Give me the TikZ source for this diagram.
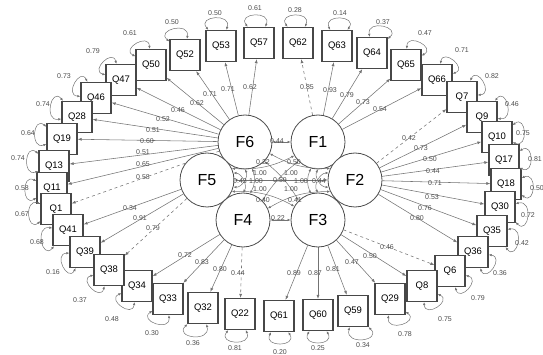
\documentclass[tikz,border=0pt]{standalone}
\usepackage{fontspec}
\setmainfont{Liberation Sans}
\usetikzlibrary{arrows.meta}
\pgfdeclarelayer{bg}
\pgfsetlayers{bg,main}
\newcommand\evar[5]{%
  \pgfmathtruncatemacro\aA{#2+28}%
  \pgfmathtruncatemacro\aB{#2-28}%
  \pgfmathtruncatemacro\oA{#2+30}%
  \pgfmathtruncatemacro\oB{#2-30}%
  \draw[cov] (#1.\aA) to[out=\oA,in=\oB,looseness=2.6] (#1.\aB);
  \node[num] (e#1) at (#3,-#4) {#5};}
\begin{document}
\begin{tikzpicture}[x=1pt,y=1pt,
  box/.style={draw=black!72,line width=1.3pt,fill=white,minimum width=30pt,minimum height=31pt,inner sep=0pt,font=\fontsize{9.5}{9.5}\selectfont},
  fac/.style={circle,draw=black!70,line width=0.8pt,fill=white,minimum size=54pt,inner sep=0pt,font=\fontsize{16}{16}\selectfont},
  ld/.style={draw=black!55,line width=0.55pt,-{Latex[length=4pt,width=3pt]}},
  ldd/.style={ld,dashed},
  cov/.style={draw=black!55,line width=0.5pt,{Latex[length=3pt,width=2.5pt]}-{Latex[length=3pt,width=2.5pt]}},
  num/.style={font=\fontsize{7}{7}\selectfont,text=black!70,inner sep=0pt},
]
\useasboundingbox (0,0) rectangle (543,-355);
% factors
\node[fac] (F6) at (245,-142) {F6};
\node[fac] (F1) at (318,-142) {F1};
\node[fac] (F5) at (207,-180) {F5};
\node[fac] (F2) at (355,-180) {F2};
\node[fac] (F4) at (243,-220) {F4};
\node[fac] (F3) at (318,-220) {F3};
% boxes
\node[box] (Q52) at (185,-55) {Q52};
\node[box] (Q53) at (221,-46) {Q53};
\node[box] (Q57) at (259,-43) {Q57};
\node[box] (Q62) at (298,-43) {Q62};
\node[box] (Q63) at (337,-46) {Q63};
\node[box] (Q64) at (372,-53) {Q64};
\node[box] (Q65) at (406,-65) {Q65};
\node[box] (Q66) at (437,-80) {Q66};
\node[box] (Q7) at (462,-97) {Q7};
\node[box] (Q9) at (482,-117) {Q9};
\node[box] (Q10) at (497,-137) {Q10};
\node[box] (Q17) at (504,-160) {Q17};
\node[box] (Q18) at (506,-184) {Q18};
\node[box] (Q30) at (500,-207) {Q30};
\node[box] (Q35) at (492,-231) {Q35};
\node[box] (Q36) at (473,-252) {Q36};
\node[box] (Q6) at (450,-271) {Q6};
\node[box] (Q8) at (422,-286) {Q8};
\node[box] (Q29) at (390,-299) {Q29};
\node[box] (Q59) at (353,-311) {Q59};
\node[box] (Q60) at (318,-315) {Q60};
\node[box] (Q61) at (279,-316) {Q61};
\node[box] (Q22) at (240,-314) {Q22};
\node[box] (Q32) at (203,-308) {Q32};
\node[box] (Q33) at (168,-299) {Q33};
\node[box] (Q34) at (137,-286) {Q34};
\node[box] (Q50) at (151,-65) {Q50};
\node[box] (Q47) at (121,-80) {Q47};
\node[box] (Q46) at (96,-98) {Q46};
\node[box] (Q28) at (77,-117) {Q28};
\node[box] (Q19) at (62,-139) {Q19};
\node[box] (Q13) at (54,-166) {Q13};
\node[box] (Q11) at (52,-188) {Q11};
\node[box] (Q1) at (56,-209) {Q1};
\node[box] (Q41) at (68,-230) {Q41};
\node[box] (Q39) at (85,-252) {Q39};
\node[box] (Q38) at (109,-270) {Q38};
% loadings
\begin{pgfonlayer}{bg}
\foreach \q in {Q57,Q53,Q52,Q50,Q47,Q46,Q28,Q19,Q13,Q11} \draw[ld] (F6) -- (\q);
\draw[ldd] (F6) -- (Q1);
\foreach \q in {Q41,Q39} \draw[ld] (F5) -- (\q);
\draw[ldd] (F5) -- (Q38);
\foreach \q in {Q34,Q33,Q32} \draw[ld] (F4) -- (\q);
\draw[ldd] (F4) -- (Q22);
\foreach \q in {Q61,Q60,Q59,Q29,Q8} \draw[ld] (F3) -- (\q);
\draw[ldd] (F3) -- (Q6);
\foreach \q in {Q36,Q35,Q30,Q18,Q17,Q10,Q9} \draw[ld] (F2) -- (\q);
\draw[ldd] (F2) -- (Q7);
\foreach \q in {Q63,Q64,Q65,Q66} \draw[ld] (F1) -- (\q);
\draw[ldd] (F1) -- (Q62);
\end{pgfonlayer}
% loading labels
\node[num] (l57) at (250,-87) {0.62};
\node[num] (l53) at (228,-89) {0.71};
\node[num] (l52) at (210,-94) {0.71};
\node[num] (l50) at (197,-103) {0.62};
\node[num] (l47) at (178,-110) {0.46};
\node[num] (l46) at (163,-119) {0.52};
\node[num] (l28) at (153,-130) {0.51};
\node[num] (l19) at (147,-141) {0.60};
\node[num] (l13) at (143,-152) {0.51};
\node[num] (l11) at (143,-164) {0.65};
\node[num] (l1) at (143,-177) {0.58};
\node[num] (l41) at (130,-208) {0.34};
\node[num] (l39) at (140,-218) {0.91};
\node[num] (l38) at (153,-228) {0.79};
\node[num] (l34) at (185,-255) {0.72};
\node[num] (l33) at (202,-262) {0.83};
\node[num] (l32) at (220,-269) {0.80};
\node[num] (l22) at (238,-273) {0.44};
\node[num] (l61) at (294,-273) {0.89};
\node[num] (l60) at (315,-273) {0.87};
\node[num] (l59) at (333,-269) {0.81};
\node[num] (l29) at (352,-262) {0.47};
\node[num] (l8) at (370,-256) {0.50};
\node[num] (l6) at (387,-247) {0.46};
\node[num] (l36) at (417,-218) {0.80};
\node[num] (l35) at (425,-208) {0.76};
\node[num] (l30) at (432,-197) {0.53};
\node[num] (l18) at (435,-183) {0.71};
\node[num] (l17) at (433,-171) {0.44};
\node[num] (l10) at (430,-159) {0.50};
\node[num] (l9) at (421,-148) {0.73};
\node[num] (l7) at (409,-138) {0.42};
\node[num] (l62) at (307,-87) {0.85};
\node[num] (l63) at (330,-90) {0.93};
\node[num] (l64) at (347,-95) {0.79};
\node[num] (l65) at (363,-102) {0.73};
\node[num] (l66) at (380,-109) {0.54};
% error variances
\evar{Q52}{111}{172}{22}{0.50}
\evar{Q53}{100}{215}{13}{0.50}
\evar{Q57}{97}{255}{8}{0.61}
\evar{Q62}{95}{295}{10}{0.28}
\evar{Q63}{85}{340}{13}{0.14}
\evar{Q64}{70}{383}{22}{0.37}
\evar{Q65}{59}{425}{33}{0.47}
\evar{Q66}{50}{462}{50}{0.71}
\evar{Q7}{35}{492}{76}{0.82}
\evar{Q9}{23}{512}{104}{0.46}
\evar{Q10}{9}{523}{133}{0.75}
\evar{Q17}{2}{535}{159}{0.81}
\evar{Q18}{-7}{537}{188}{0.50}
\evar{Q30}{-16}{528}{215}{0.72}
\evar{Q35}{-22}{522}{243}{0.42}
\evar{Q36}{-38}{500}{273}{0.36}
\evar{Q6}{-44}{478}{298}{0.79}
\evar{Q8}{-55}{445}{319}{0.75}
\evar{Q29}{-67}{405}{334}{0.78}
\evar{Q59}{-74}{363}{345}{0.34}
\evar{Q60}{-90}{318}{348}{0.25}
\evar{Q61}{-88}{280}{352}{0.20}
\evar{Q22}{-98}{235}{348}{0.81}
\evar{Q32}{-106}{193}{343}{0.36}
\evar{Q33}{-115}{152}{333}{0.30}
\evar{Q34}{-127}{112}{319}{0.48}
\evar{Q38}{-134}{80}{300}{0.37}
\evar{Q39}{-148}{53}{272}{0.16}
\evar{Q41}{-159}{37}{242}{0.68}
\evar{Q1}{-170}{22}{214}{0.67}
\evar{Q11}{-176}{22}{188}{0.58}
\evar{Q13}{170}{18}{158}{0.74}
\evar{Q19}{170}{28}{133}{0.64}
\evar{Q28}{159}{43}{104}{0.74}
\evar{Q46}{146}{64}{76}{0.73}
\evar{Q47}{134}{93}{51}{0.79}
\evar{Q50}{123}{130}{33}{0.61}
% correlations
\draw[cov] (F6.east) -- (F1.west);
\draw[cov] (F4.east) -- (F3.west);
\draw[cov] (F5.east) -- (F2.west);
\draw[cov] (F6.-75) to[bend left=25] (F4.75);
\draw[cov] (F1.-105) to[bend right=25] (F3.105);
\draw[cov] (F6.-45) to[bend left=10] (F3.135);
\draw[cov] (F1.-135) to[bend right=10] (F4.45);
\draw[cov] (F5.25) to[bend right=15] (F1.-150);
\draw[cov] (F5.-25) to[bend left=15] (F3.150);
\draw[cov] (F6.-25) to[bend right=15] (F2.155);
\draw[cov] (F4.25) to[bend left=15] (F2.-155);
\draw[cov] (F6.-90) to[bend left=60] (F5.-15);
\draw[cov] (F1.-90) to[bend right=60] (F2.195);
\draw[cov] (F5.15) to[bend left=60] (F4.90);
\draw[cov] (F2.165) to[bend right=60] (F3.90);
\node[num] (c61) at (277,-141) {0.44};
\node[num] (c43) at (278,-218) {0.22};
\node[num] (c65) at (263,-162) {0.22};
\node[num] (c12) at (294,-162) {0.50};
\node[num] (c5a) at (240,-181) {0.43};
\node[num] (c52) at (280,-180) {0.59};
\node[num] (c2a) at (319,-181) {0.44};
\node[num] (c54) at (263,-200) {0.40};
\node[num] (c23) at (295,-200) {0.41};
\node[num] (v6) at (260,-173) {1.00};
\node[num] (v1) at (291,-173) {1.00};
\node[num] (v5) at (256,-181) {1.00};
\node[num] (v2) at (301,-181) {1.00};
\node[num] (v4) at (260,-189) {1.00};
\node[num] (v3) at (291,-189) {1.00};
\end{tikzpicture}
\end{document}
